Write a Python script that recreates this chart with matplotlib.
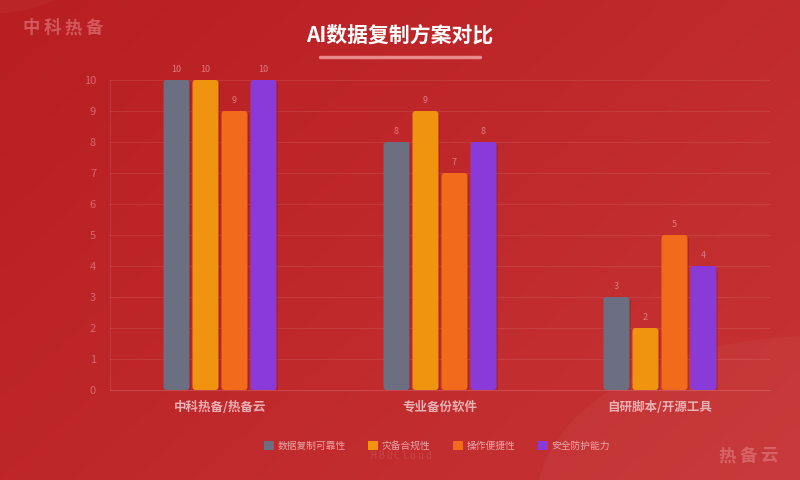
import matplotlib
matplotlib.use("Agg")
import matplotlib.pyplot as plt
import numpy as np
from matplotlib.patches import Circle, Patch, FancyBboxPatch

plt.rcParams['font.family'] = ['Noto Sans CJK SC', 'DejaVu Sans']

categories = ['中科热备/热备云', '专业备份软件', '自研脚本/开源工具']
series_names = ['数据复制可靠性', '灾备合规性', '操作便捷性', '安全防护能力']
series_values = [
    [10, 8, 3],
    [10, 9, 2],
    [9, 7, 5],
    [10, 8, 4],
]
colors = ['#6c6f82', '#f0930f', '#f26a1b', '#8a3ad8']
yticks = list(range(0, 11))

fig = plt.figure(figsize=(8, 4.8), dpi=100)

# background gradient
bg = fig.add_axes([0, 0, 1, 1], zorder=-10)
yy, xx = np.mgrid[0:1:200j, 0:1:300j]
t = (xx * 0.6 + yy * 0.4)
c0 = np.array([0xb8, 0x1e, 0x22]) / 255
c1 = np.array([0xc7, 0x34, 0x35]) / 255
img = c0[None, None, :] * (1 - t[..., None]) + c1[None, None, :] * t[..., None]
bg.imshow(img, extent=[0, 1, 0, 1], aspect='auto', origin='upper')
bg.add_patch(Circle((-0.02, 1.12), 0.15, transform=bg.transAxes, color='white', alpha=0.03, lw=0))
bg.add_patch(Circle((1.02, -0.05), 0.35, transform=bg.transAxes, color='white', alpha=0.03, lw=0))
bg.set_xlim(0, 1); bg.set_ylim(0, 1)
bg.axis('off')

ax_l, ax_b, ax_w, ax_h = 110, 90, 660, 310  # px
ax = fig.add_axes([ax_l/800, ax_b/480, ax_w/800, ax_h/480])
ax.set_facecolor('none')
n = len(series_names)
width = 26/220
step = 29/220
x = np.arange(len(categories))
xrange_, yrange_ = 3.0, 10.0
px_x = xrange_ / ax_w
px_y = yrange_ / ax_h
r = 3 * px_x
aspect = px_y / px_x
for i, (name, vals, col) in enumerate(zip(series_names, series_values, colors)):
    pos = x + (i - (n - 1) / 2) * step
    for p, v in zip(pos, vals):
        left = p - width / 2
        # shadow
        sh = FancyBboxPatch((left + r + 1.5*px_x, r*aspect - 2*px_y), width - 2*r, v - 2*r*aspect,
                            boxstyle=f"round,pad={r},rounding_size={r}", mutation_aspect=aspect,
                            facecolor='black', alpha=0.12, lw=0, zorder=2)
        ax.add_patch(sh)
        fb = FancyBboxPatch((left + r, r*aspect), width - 2*r, v - 2*r*aspect,
                            boxstyle=f"round,pad={r},rounding_size={r}", mutation_aspect=aspect,
                            facecolor=col, lw=0, zorder=3)
        ax.add_patch(fb)
        ax.text(p, v + 0.18, str(v), ha='center', va='bottom', fontsize=6.5, color='#e07b80')

ax.set_xlim(-0.5, 2.5)
ax.set_ylim(0, 10)
ax.set_yticks(yticks)
ax.set_yticklabels([str(v) for v in yticks], fontsize=8, color='#d9666c')
ax.set_xticks(x)
ax.set_xticklabels(categories, fontsize=9, color='#eab0b3', fontweight='bold')
ax.tick_params(axis='both', length=0)
ax.tick_params(axis='y', pad=10)
ax.tick_params(axis='x', pad=8)
ax.grid(axis='y', color='#ffffff', alpha=0.09, linewidth=0.8, zorder=0)
for s in ['top', 'right']:
    ax.spines[s].set_visible(False)
ax.spines['left'].set_color((1, 1, 1, 0.1))
ax.spines['bottom'].set_color((1, 1, 1, 0.15))

fig.text(0.5, 1 - 35/480, 'AI数据复制方案对比', ha='center', va='center', fontsize=15,
         fontweight='bold', color='white')
fig.add_artist(plt.Line2D([320/800, 480/800], [1 - 57/480] * 2, color='#e88a8c', linewidth=2.5,
                          solid_capstyle='round'))


def spaced(text, x0, y0, dx, **kw):
    for k, ch in enumerate(text):
        fig.text((x0 + k * dx) / 800, 1 - y0 / 480, ch, ha='center', va='center', **kw)


spaced('中科热备', 31, 28, 21, fontsize=12.5, fontweight='bold', color='#d3595c')
spaced('热备云', 727, 456, 21, fontsize=12.5, fontweight='bold', color='#d86367')
spaced('HBUCloud', 373, 456, 7.9, fontsize=7, color='#c8454a', family='DejaVu Sans Mono')

handles = [Patch(facecolor=c, edgecolor='none') for c in colors]
leg = fig.legend(handles, series_names, loc='center', bbox_to_anchor=(437/800, 1 - 446/480), ncol=4,
                 frameon=False, fontsize=7, handlelength=1.0, handleheight=1.0, columnspacing=2.3,
                 handletextpad=0.4)
for t in leg.get_texts():
    t.set_color('#eaa5a8')

fig.savefig('out.png', dpi=100)
